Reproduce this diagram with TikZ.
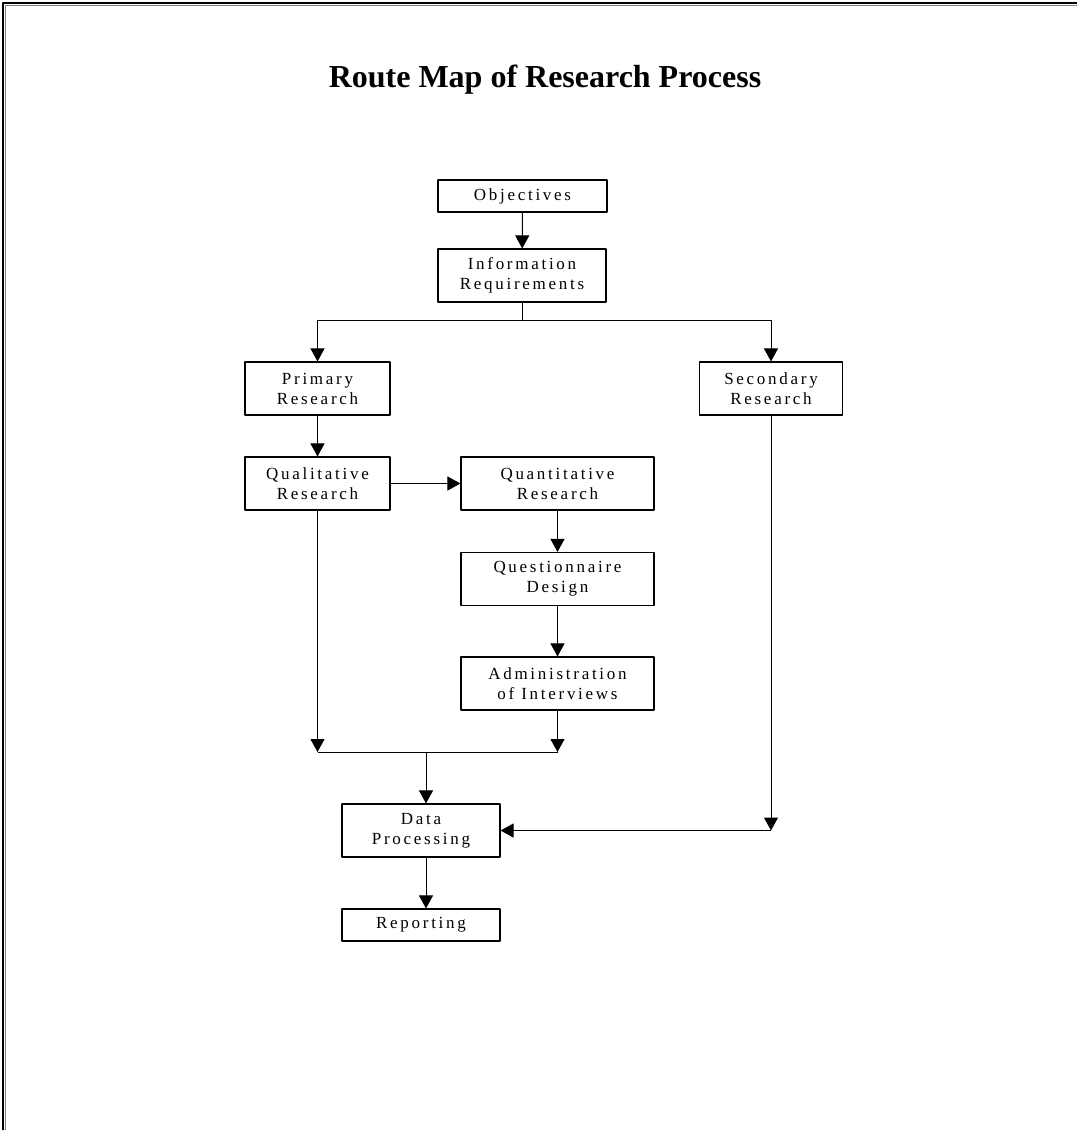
\documentclass[tikz,border=0pt]{standalone}
\usepackage{fontspec}
\setmainfont{Liberation Serif}
\newfontfamily\boxfont[LetterSpace=16]{Liberation Serif}
\usetikzlibrary{arrows.meta}
\tikzset{>={Triangle[length=13pt,width=14pt]}}
\tikzset{stage/.style={draw, line width=1.1pt, inner sep=0pt, align=center,
    minimum height=53pt, font=\boxfont\fontsize{17}{20}\selectfont}}

\begin{document}
\begin{tikzpicture}[x=1pt, y=-1pt, line width=1pt, line join=round]
    \useasboundingbox (0,0) rectangle (1077,1130);
    % page frame
    \draw[line width=1.6pt] (3,1130) -- (3,3) -- (1077,3);
    \draw[gray, line width=0.6pt] (5,1130) -- (5,5) -- (1077,5);

    \node[font=\bfseries\fontsize{32}{38}\selectfont, anchor=base] (title) at (545,87) {Route Map of Research Process};

    \node[stage, minimum width=169pt, minimum height=32pt] (obj) at (522.5,196) {Objectives};
    \node[stage, minimum width=168pt] (info) at (522,275.5) {Information\\Requirements};
    \node[stage, minimum width=145pt] (prim) at (317.5,388.5) {Primary\\Research};
    \node[stage, minimum width=143pt] (sec) at (771,388.5) {Secondary\\Research};
    \node[stage, minimum width=145pt] (qual) at (317.5,483.5) {Qualitative\\Research};
    \node[stage, minimum width=193pt] (quant) at (557.5,483.5) {Quantitative\\Research};
    \node[stage, minimum width=193pt] (quest) at (557.5,579) {Questionnaire\\Design};
    \node[stage, minimum width=193pt] (admin) at (557.5,683.5) {Administration\\of Interviews};
    \node[stage, minimum width=158pt] (dp) at (421,830.5) {Data\\Processing};
    \node[stage, minimum width=158pt, minimum height=32pt] (rep) at (421,925) {Reporting};

    \coordinate (jl) at (317.5,752);
    \coordinate (jr) at (557.5,752);
    \coordinate (jm) at (426,752);
    \coordinate (corner) at (771,830.5);

    \draw[->] (obj) -- (info);
    \draw (info.south) -- ++(0,18) coordinate (fork);
    \draw[->] (fork) -| (prim);
    \draw[->] (fork) -| (sec);
    \draw[->] (prim) -- (qual);
    \draw[->] (qual) -- (quant);
    \draw[->] (quant) -- (quest);
    \draw[->] (quest) -- (admin);
    \draw[->] (qual) -- (jl);
    \draw[->] (admin) -- (jr);
    \draw (jl) -- (jr);
    \draw[->] (jm) -- (jm |- dp.north);
    \draw[->] (sec) -- (corner);
    \draw[->] (corner) -- (dp.east);
    \draw[->] (dp.south -| jm) -- (rep.north -| jm);
\end{tikzpicture}
\end{document}
